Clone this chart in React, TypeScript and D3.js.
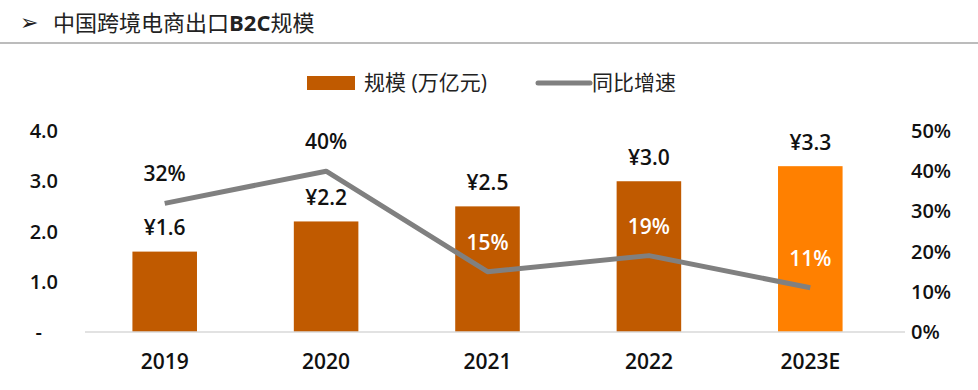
import React, { useRef, useEffect } from 'react';
import * as d3 from 'd3';

const years = ['2019', '2020', '2021', '2022', '2023E'];
const scale = [1.6, 2.2, 2.5, 3.0, 3.3];
const growth = [0.32, 0.40, 0.15, 0.19, 0.11];
const leftTicks = [0, 1, 2, 3, 4];
const rightTicks = [0, 0.1, 0.2, 0.3, 0.4, 0.5];
// growth labels that sit inside the bars (white) vs above the line
const growthInside = [false, false, true, true, true];

const W = 978;
const H = 390;
const FONT = '"Open Sans", "Noto Sans CJK SC", sans-serif';

export default function App() {
  const ref = useRef<SVGSVGElement>(null);

  useEffect(() => {
    const svg = d3.select(ref.current);
    svg.selectAll('*').remove();

    const x = d3.scaleBand().domain(years).range([84, 891]).paddingInner(0.6).paddingOuter(0.3);
    const y = d3.scaleLinear().domain([0, 4]).range([332, 131]);
    const y2 = d3.scaleLinear().domain([0, 0.5]).range([332, 131]);
    const cx = (d: string) => (x(d) as number) + x.bandwidth() / 2;

    // title
    svg.append('text').attr('x', 20).attr('y', 30).attr('font-size', 22).attr('fill', '#222')
      .attr('font-family', '"DejaVu Sans", sans-serif').text('➢');
    const title = svg.append('text').attr('x', 53).attr('y', 31).attr('font-size', 22).attr('fill', '#222')
      .attr('font-family', FONT);
    title.append('tspan').text('中国跨境电商出口');
    title.append('tspan').attr('font-weight', 700).text('B2C');
    title.append('tspan').text('规模');
    svg.append('line').attr('x1', 0).attr('x2', W).attr('y1', 43).attr('y2', 43)
      .attr('stroke', '#a6a6a6').attr('stroke-width', 1.5);

    // legend
    svg.append('rect').attr('x', 307).attr('y', 76).attr('width', 48).attr('height', 14).attr('fill', '#C05A00');
    svg.append('text').attr('x', 364).attr('y', 90).attr('font-size', 21).attr('fill', '#222')
      .attr('font-family', FONT).text('规模 (万亿元)');
    svg.append('line').attr('x1', 538).attr('x2', 590).attr('y1', 83).attr('y2', 83)
      .attr('stroke', '#808080').attr('stroke-width', 5).attr('stroke-linecap', 'round');
    svg.append('text').attr('x', 592).attr('y', 90).attr('font-size', 21).attr('fill', '#222')
      .attr('font-family', FONT).text('同比增速');

    // left axis
    svg.append('g').selectAll('text').data(leftTicks).join('text')
      .attr('x', d => (d === 0 ? 42 : 58)).attr('y', d => y(d)).attr('dy', '0.35em').attr('text-anchor', 'end')
      .attr('font-size', 20).attr('font-weight', 600).attr('font-family', FONT).attr('fill', '#111')
      .text(d => (d === 0 ? '-' : d3.format('.1f')(d)));

    // right axis
    svg.append('g').selectAll('text').data(rightTicks).join('text')
      .attr('x', 911).attr('y', d => y2(d)).attr('dy', '0.35em').attr('text-anchor', 'start')
      .attr('font-size', 20).attr('font-weight', 600).attr('font-family', FONT).attr('fill', '#111')
      .text(d => d3.format('.0%')(d));

    // bars
    svg.append('g').selectAll('rect').data(years).join('rect')
      .attr('x', d => x(d) as number).attr('width', x.bandwidth())
      .attr('y', (d, i) => y(scale[i])).attr('height', (d, i) => y(0) - y(scale[i]))
      .attr('fill', (d, i) => (i === years.length - 1 ? '#FF8000' : '#C05A00'));

    // baseline
    svg.append('line').attr('x1', 85).attr('x2', 905).attr('y1', y(0)).attr('y2', y(0))
      .attr('stroke', '#d9d9d9').attr('stroke-width', 1.5);

    // category labels
    svg.append('g').selectAll('text').data(years).join('text')
      .attr('x', d => cx(d)).attr('y', 362).attr('dy', '0.35em').attr('text-anchor', 'middle')
      .attr('font-size', 21).attr('font-weight', 600).attr('font-family', FONT).attr('fill', '#111').text(d => d);

    // growth line
    const line = d3.line<number>().x((d, i) => cx(years[i])).y(d => y2(d));
    svg.append('path').datum(growth).attr('d', line).attr('fill', 'none')
      .attr('stroke', '#808080').attr('stroke-width', 5).attr('stroke-linejoin', 'round');

    // bar value labels
    svg.append('g').selectAll('text').data(years).join('text')
      .attr('x', d => cx(d)).attr('y', (d, i) => y(scale[i]) - 24).attr('dy', '0.35em')
      .attr('text-anchor', 'middle').attr('font-size', 21).attr('font-weight', 600).attr('font-family', FONT).attr('fill', '#111')
      .text((d, i) => '¥' + d3.format('.1f')(scale[i]));

    // growth labels
    svg.append('g').selectAll('text').data(years).join('text')
      .attr('x', d => cx(d))
      .attr('y', (d, i) => (growthInside[i] ? y2(growth[i]) - 29 : y2(growth[i]) - 30))
      .attr('dy', '0.35em').attr('text-anchor', 'middle').attr('font-size', 21).attr('font-weight', 600).attr('font-family', FONT)
      .attr('fill', (d, i) => (growthInside[i] ? '#fff' : '#111'))
      .text((d, i) => d3.format('.0%')(growth[i]));
  }, []);

  return <svg ref={ref} width={W} height={H} style={{ display: 'block', position: 'absolute', left: 0, top: 0 }} />;
}
